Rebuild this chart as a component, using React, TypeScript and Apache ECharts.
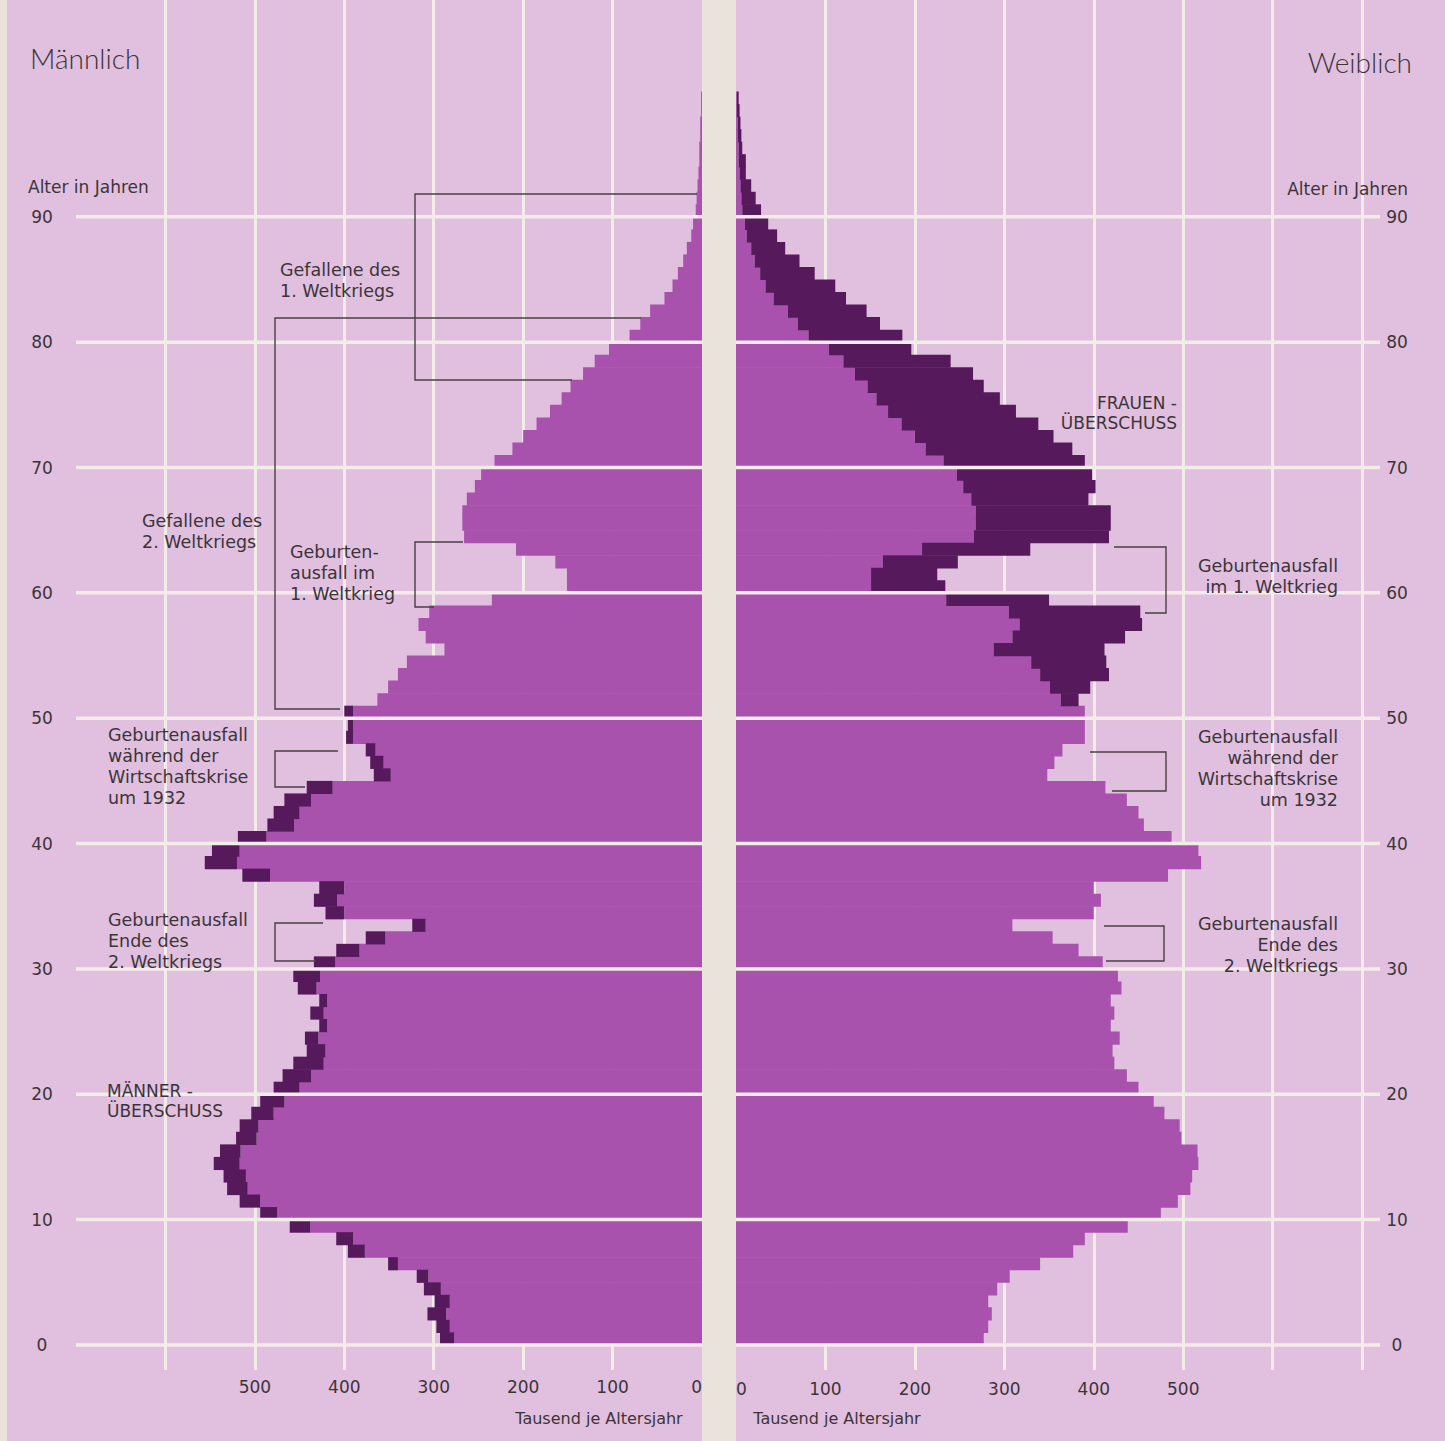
import React, { useEffect, useRef } from "react";
import * as echarts from "echarts";

// ---- data (thousands per year of age) ----
const ages: number[] = Array.from({ length: 100 }, (_, i) => i);

const male: number[] = [
  293, 297, 307, 299, 311, 319, 351, 396, 409, 461,
  494, 517, 531, 535, 546, 539, 521, 517, 504, 494,
  479, 469, 457, 442, 444, 428, 438, 428, 452, 457,
  434, 409, 376, 324, 421, 434, 428, 514, 556, 548,
  519, 486, 479, 467, 442, 367, 371, 376, 398, 396,
  400, 363, 351, 340, 330, 288, 309, 317, 305, 235,
  151, 151, 164, 208, 266, 268, 268, 263, 254, 247,
  232, 212, 200, 185, 170, 157, 147, 133, 120, 104,
  81, 69, 58, 42, 33, 27, 21, 17, 12, 10,
  7, 6, 5, 4, 3, 3, 2, 2, 1, 1,
];

const female: number[] = [
  277, 282, 286, 282, 292, 306, 340, 377, 390, 438,
  475, 494, 508, 510, 517, 516, 498, 496, 479, 467,
  450, 437, 423, 421, 429, 419, 423, 419, 431, 427,
  410, 383, 354, 309, 400, 408, 400, 483, 520, 517,
  487, 456, 450, 437, 413, 348, 356, 365, 390, 390,
  390, 383, 396, 417, 414, 412, 435, 454, 452, 350,
  234, 225, 248, 329, 417, 419, 419, 394, 402, 398,
  390, 376, 355, 338, 313, 295, 277, 265, 240, 196,
  186, 161, 146, 123, 111, 88, 71, 55, 46, 36,
  28, 22, 17, 11, 11, 7, 6, 5, 4, 3,
];

const decades: number[] = [0, 10, 20, 30, 40, 50, 60, 70, 80, 90];
const xTickLabels: number[] = [0, 100, 200, 300, 400, 500];

// ---- styles ----
const BG = "#e1bfdf";
const GRIDLINE = "#f3ece9";
const LIGHT = "#a852ad";
const DARK = "#561a5c";
const CREAM = "#e9e3db";
const TEXT = "#3b3538";
const FONT = '"DejaVu Sans", sans-serif';

const barRender = (fill: string) => (params: any, api: any) => {
  const a = api.value(0);
  const x0 = api.value(1);
  const x1 = api.value(2);
  const p0 = api.coord([x0, a]);
  const p1 = api.coord([x1, a + 1]);
  return {
    type: "rect",
    shape: {
      x: Math.min(p0[0], p1[0]),
      y: p1[1],
      width: Math.abs(p1[0] - p0[0]),
      height: p0[1] - p1[1] + 0.6,
    },
    style: { fill },
  };
};

const lineRender = (maxVal: number) => (params: any, api: any) => {
  const a = api.value(0);
  const p0 = api.coord([0, a]);
  const p1 = api.coord([maxVal, a]);
  return {
    type: "line",
    shape: { x1: p0[0], y1: p0[1], x2: p1[0], y2: p1[1] },
    style: { stroke: GRIDLINE, lineWidth: 3.5 },
  };
};

const txt = (text: string, x: number, yFirst: number, align: string = "left", size = 17.5, lh = 21, extra: any = {}) => ({
  type: "text",
  x,
  y: yFirst - lh / 2,
  z: 100,
  silent: true,
  style: {
    text,
    fontSize: size,
    fontFamily: FONT,
    fill: TEXT,
    align,
    verticalAlign: "top",
    lineHeight: lh,
    ...extra,
  },
});

const bracket = (points: number[][]) => ({
  type: "polyline",
  z: 100,
  silent: true,
  shape: { points },
  style: { stroke: "#4a4044", lineWidth: 1.4, fill: "none" },
});

export default function App() {
  const ref = useRef<HTMLDivElement>(null);

  useEffect(() => {
    if (!ref.current) return;
    const chart = echarts.init(ref.current, null, { renderer: "svg" });

    const maleLight = ages.map((a) => [a, 0, Math.min(male[a], female[a])]);
    const maleDark = ages.filter((a) => male[a] > female[a]).map((a) => [a, female[a], male[a]]);
    const femLight = ages.map((a) => [a, 0, Math.min(male[a], female[a])]);
    const femDark = ages.filter((a) => female[a] > male[a]).map((a) => [a, male[a], female[a]]);

    const xLabel = {
      fontSize: 17,
      fontFamily: FONT,
      color: TEXT,
      margin: 8,
      customValues: xTickLabels,
    };

    const option: any = {
      animation: false,
      backgroundColor: BG,
      grid: [
        { left: 76, width: 626, top: 0, height: 1370 },
        { left: 736, width: 644, top: 0, height: 1370 },
      ],
      xAxis: [
        {
          gridIndex: 0,
          type: "value",
          inverse: true,
          min: 0,
          max: 700,
          interval: 100,
          axisLine: { show: false },
          axisTick: { show: false },
          splitLine: { show: true, showMinLine: false, showMaxLine: false, lineStyle: { color: GRIDLINE, width: 3 } },
          axisLabel: { ...xLabel, alignMinLabel: "right" },
        },
        {
          gridIndex: 1,
          type: "value",
          min: 0,
          max: 720,
          interval: 100,
          axisLine: { show: false },
          axisTick: { show: false },
          splitLine: { show: true, showMinLine: false, showMaxLine: false, lineStyle: { color: GRIDLINE, width: 3 } },
          axisLabel: { ...xLabel, margin: 10, alignMinLabel: "left" },
        },
      ],
      yAxis: [
        {
          gridIndex: 0,
          type: "value",
          min: -2,
          max: 107.3,
          axisLine: { show: false },
          axisTick: { show: false },
          splitLine: { show: false },
          axisLabel: {
            customValues: decades,
            align: "center",
            margin: 34,
            fontSize: 17,
            fontFamily: FONT,
            color: TEXT,
          },
        },
        {
          gridIndex: 1,
          type: "value",
          position: "right",
          min: -2,
          max: 107.3,
          axisLine: { show: false },
          axisTick: { show: false },
          splitLine: { show: false },
          axisLabel: {
            customValues: decades,
            align: "center",
            margin: 17,
            fontSize: 17,
            fontFamily: FONT,
            color: TEXT,
          },
        },
      ],
      series: [
        { type: "custom", name: "Männlich", xAxisIndex: 0, yAxisIndex: 0, z: 2, data: maleLight, renderItem: barRender(LIGHT), silent: true },
        { type: "custom", name: "Männerüberschuss", xAxisIndex: 0, yAxisIndex: 0, z: 3, data: maleDark, renderItem: barRender(DARK), silent: true },
        { type: "custom", name: "Weiblich", xAxisIndex: 1, yAxisIndex: 1, z: 2, data: femLight, renderItem: barRender(LIGHT), silent: true },
        { type: "custom", name: "Frauenüberschuss", xAxisIndex: 1, yAxisIndex: 1, z: 3, data: femDark, renderItem: barRender(DARK), silent: true },
        { type: "custom", xAxisIndex: 0, yAxisIndex: 0, z: 5, data: decades.map((d) => [d]), renderItem: lineRender(700), silent: true },
        { type: "custom", xAxisIndex: 1, yAxisIndex: 1, z: 5, data: decades.map((d) => [d]), renderItem: lineRender(720), silent: true },
      ],
      graphic: {
        elements: [
          { type: "rect", z: 50, silent: true, shape: { x: 702, y: 0, width: 34, height: 1441 }, style: { fill: CREAM } },
          { type: "rect", z: 50, silent: true, shape: { x: 0, y: 0, width: 7, height: 1441 }, style: { fill: CREAM } },
          txt("Männlich", 30, 58, "left", 28, 32, { fontFamily: "Lato, sans-serif", fontWeight: 300 }),
          txt("Weiblich", 1412, 62, "right", 28, 32, { fontFamily: "Lato, sans-serif", fontWeight: 300 }),
          txt("Alter in Jahren", 28, 187, "left", 17),
          txt("Alter in Jahren", 1408, 189, "right", 17),
          txt("Tausend je Altersjahr", 599, 1418, "center", 16),
          txt("Tausend je Altersjahr", 837, 1418, "center", 16),
          txt("Gefallene des\n1. Weltkriegs", 280, 270),
          txt("Gefallene des\n2. Weltkriegs", 142, 521),
          txt("Geburten-\nausfall im\n1. Weltkrieg", 290, 552),
          txt("Geburtenausfall\nwährend der\nWirtschaftskrise\num 1932", 108, 735),
          txt("Geburtenausfall\nEnde des\n2. Weltkriegs", 108, 920),
          txt("MÄNNER -\nÜBERSCHUSS", 107, 1091, "left", 17, 20),
          txt("FRAUEN -\nÜBERSCHUSS", 1177, 403, "right", 17, 20),
          txt("Geburtenausfall\nim 1. Weltkrieg", 1338, 566, "right"),
          txt("Geburtenausfall\nwährend der\nWirtschaftskrise\num 1932", 1338, 737, "right"),
          txt("Geburtenausfall\nEnde des\n2. Weltkriegs", 1338, 924, "right"),
          bracket([[697, 194], [415, 194], [415, 380], [572, 380]]),
          bracket([[641, 318], [275, 318], [275, 709], [340, 709]]),
          bracket([[463, 542], [415, 542], [415, 607], [434, 607]]),
          bracket([[338, 751], [275, 751], [275, 787], [305, 787]]),
          bracket([[323, 923], [275, 923], [275, 961], [316, 961]]),
          bracket([[1114, 547], [1166, 547], [1166, 613], [1145, 613]]),
          bracket([[1090, 752], [1166, 752], [1166, 791], [1112, 791]]),
          bracket([[1104, 926], [1164, 926], [1164, 961], [1106, 961]]),
        ],
      },
    };

    chart.setOption(option);
    return () => chart.dispose();
  }, []);

  return (
    <div
      ref={ref}
      style={{ position: "fixed", left: 0, top: 0, width: 1445, height: 1441 }}
    />
  );
}
